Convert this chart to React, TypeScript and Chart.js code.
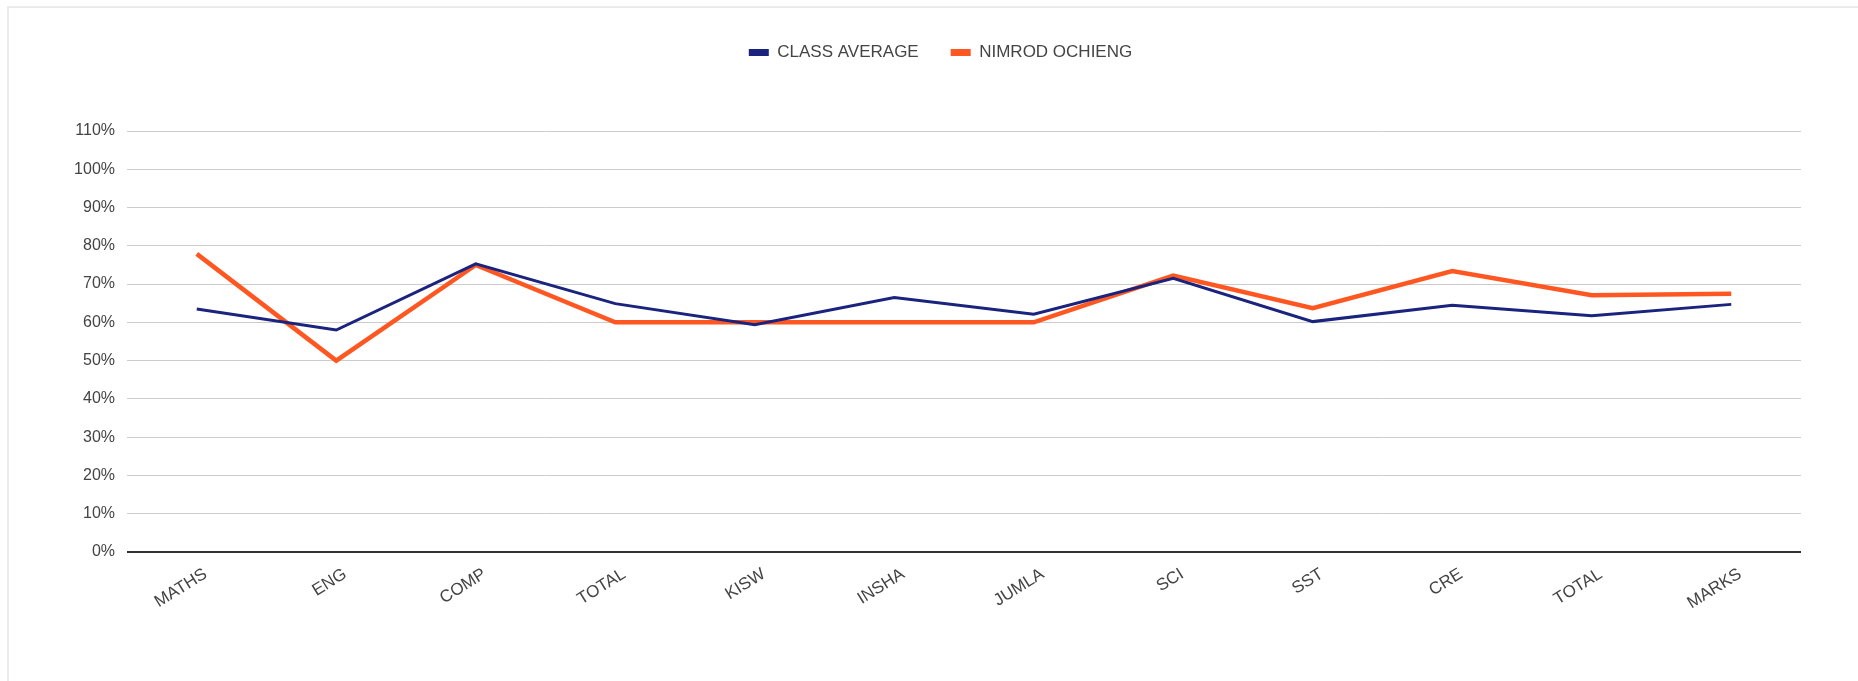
import React, { useEffect, useRef } from 'react';
import { Chart, registerables } from 'chart.js';

Chart.register(...registerables);

const categories = ['MATHS', 'ENG', 'COMP', 'TOTAL', 'KISW', 'INSHA', 'JUMLA', 'SCI', 'SST', 'CRE', 'TOTAL', 'MARKS'];
const classAverage = [63.5, 58.0, 75.3, 64.9, 59.4, 66.5, 62.1, 71.5, 60.2, 64.5, 61.7, 64.7];
const nimrodOchieng = [77.9, 50.0, 75.0, 60.0, 60.0, 60.0, 60.0, 72.2, 63.7, 73.4, 67.1, 67.5];
const seriesNames = ['CLASS AVERAGE', 'NIMROD OCHIENG'];
const yTicksMin = 0;
const yTicksMax = 110;
const yTicksStep = 10;

const FONT = "'Liberation Sans', Arial, sans-serif";
const W = 1858;
const H = 681;
const LEGEND_SHIFT = 40;

const legendSpacer = {
  id: 'legendSpacer',
  beforeLayout(chart: any) {
    const legend = chart.legend;
    if (legend && !legend.__patched) {
      const origFit = legend.fit;
      legend.fit = function () {
        origFit.call(this);
        this.height = 119;
      };
      const origDraw = legend.draw;
      legend.draw = function () {
        this.left += LEGEND_SHIFT;
        this.right += LEGEND_SHIFT;
        origDraw.call(this);
        this.left -= LEGEND_SHIFT;
        this.right -= LEGEND_SHIFT;
      };
      legend.__patched = true;
    }
  },
};

export default function App() {
  const ref = useRef<HTMLCanvasElement | null>(null);

  useEffect(() => {
    if (!ref.current) return;
    const chart = new Chart(ref.current, {
      type: 'line',
      data: {
        labels: categories,
        datasets: [
          {
            label: seriesNames[0],
            data: classAverage,
            borderColor: '#1a237e',
            backgroundColor: '#1a237e',
            borderWidth: 3,
            pointRadius: 0,
            tension: 0,
          },
          {
            label: seriesNames[1],
            data: nimrodOchieng,
            borderColor: '#ff5722',
            backgroundColor: '#ff5722',
            borderWidth: 4.5,
            pointRadius: 0,
            tension: 0,
          },
        ],
      },
      options: {
        responsive: false,
        animation: false,
        devicePixelRatio: 1,
        layout: { padding: { top: 12, left: 0, right: 57, bottom: 0 } },
        plugins: {
          tooltip: { enabled: false },
          legend: {
            position: 'top',
            align: 'center',
            labels: {
              boxWidth: 20,
              boxHeight: 7,
              padding: 32,
              color: '#444',
              font: { family: FONT, size: 17 },
              generateLabels(c: any) {
                const items = Chart.defaults.plugins.legend.labels.generateLabels(c);
                return items.map((it: any) => ({ ...it, lineWidth: 0, strokeStyle: 'rgba(0,0,0,0)' }));
              },
            },
          },
        },
        scales: {
          x: {
            type: 'category',
            offset: true,
            grid: { display: false, drawTicks: false },
            border: { display: false },
            ticks: {
              autoSkip: false,
              minRotation: 32,
              maxRotation: 32,
              padding: 12,
              labelOffset: 9,
              color: '#444',
              font: { family: FONT, size: 17 },
            },
            afterFit(scale: any) {
              scale.height = 129;
            },
          },
          y: {
            min: yTicksMin,
            max: yTicksMax,
            border: { display: false },
            grid: {
              drawTicks: false,
              color: (ctx: any) => (ctx.tick && ctx.tick.value === 0 ? '#333' : '#cccccc'),
              lineWidth: (ctx: any) => (ctx.tick && ctx.tick.value === 0 ? 2 : 1),
            },
            ticks: {
              stepSize: yTicksStep,
              padding: 12,
              color: '#444',
              font: { family: FONT, size: 16 },
              callback: (v: any) => `${v}%`,
            },
            afterFit(scale: any) {
              scale.width = 127;
            },
          },
        },
      },
      plugins: [legendSpacer],
    } as any);
    return () => chart.destroy();
  }, []);

  return (
    <div style={{ position: 'fixed', left: 0, top: 0, width: W, height: H, background: '#fff', overflow: 'hidden' }}>
      <div
        style={{
          position: 'absolute',
          left: 7,
          top: 6,
          width: W,
          height: H,
          borderTop: '2px solid #ebebeb',
          borderLeft: '2px solid #ebebeb',
        }}
      />
      <canvas ref={ref} width={W} height={H} style={{ position: 'absolute', left: 0, top: 0, width: W, height: H }} />
    </div>
  );
}
